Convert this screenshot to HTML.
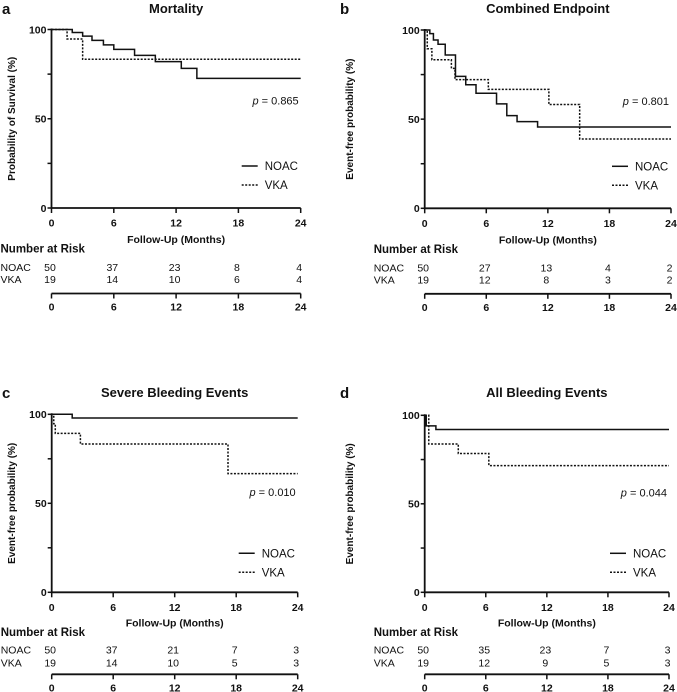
<!DOCTYPE html>
<html><head><meta charset="utf-8"><style>
html,body{margin:0;padding:0;background:#fff;width:677px;height:692px;overflow:hidden}
svg{display:block}
text{font-family:"Liberation Sans",Arial,sans-serif;fill:#111}
</style></head><body>
<svg id="fig" width="677" height="692" viewBox="0 0 677 692" xmlns="http://www.w3.org/2000/svg"></svg>
<script>
// ---- data ----
const xTicks = [0, 6, 12, 18, 24];
const yTicks = [0, 25, 50, 75, 100];
const yTickLabels = ["0", "", "50", "", "100"];
const panelLetters = ["a", "b", "c", "d"];
const panelTitles = ["Mortality", "Combined Endpoint", "Severe Bleeding Events", "All Bleeding Events"];
const yTitles = ["Probability of Survival (%)", "Event-free probability (%)", "Event-free probability (%)", "Event-free probability (%)"];
const pValues = ["0.865", "0.801", "0.010", "0.044"];
// panel a
const aNoacT = [0, 2.0, 3.0, 3.9, 5.0, 6.0, 8.0, 10.0, 12.5, 14.0, 24];
const aNoacS = [100, 98.3, 96.3, 93.9, 91.4, 88.9, 85.5, 82.0, 78.2, 72.6, 72.6];
const aVkaT = [0, 1.5, 3.0, 24];
const aVkaS = [100, 94.7, 83.3, 83.3];
// panel b
const bNoacT = [0, 0.5, 0.85, 1.3, 2.0, 3.0, 4.0, 5.0, 7.0, 8.0, 9.0, 11.0, 24];
const bNoacS = [100, 98, 94.4, 92, 86, 74, 69.3, 64.5, 58.6, 52, 48.6, 45.6, 45.6];
const bVkaT = [0, 0.25, 0.7, 2.6, 2.95, 6.2, 12.1, 15.1, 24];
const bVkaS = [100, 89.5, 83.3, 78.5, 72.2, 66.7, 58.2, 38.9, 38.9];
// panel c
const cNoacT = [0, 2.0, 24];
const cNoacS = [100, 97.9, 97.9];
const cVkaT = [0, 0.2, 0.35, 2.8, 17.2, 24];
const cVkaS = [100, 94.7, 89.3, 83.3, 66.7, 66.7];
// panel d
const dNoacT = [0, 0.15, 1.1, 24];
const dNoacS = [100, 94, 92, 92];
const dVkaT = [0, 0.4, 3.3, 6.3, 24];
const dVkaS = [100, 83.8, 78.4, 71.6, 71.6];
// numbers at risk
const aRiskNoac = [50, 37, 23, 8, 4], aRiskVka = [19, 14, 10, 6, 4];
const bRiskNoac = [50, 27, 13, 4, 2], bRiskVka = [19, 12, 8, 3, 2];
const cRiskNoac = [50, 37, 21, 7, 3], cRiskVka = [19, 14, 10, 5, 3];
const dRiskNoac = [50, 35, 23, 7, 3], dRiskVka = [19, 12, 9, 5, 3];

const NS = "http://www.w3.org/2000/svg";
const svg = document.getElementById("fig");
function mk(tag, attrs, parent, txt) {
  const e = document.createElementNS(NS, tag);
  for (const k in attrs) e.setAttribute(k, attrs[k]);
  if (txt !== undefined) e.textContent = txt;
  (parent || svg).appendChild(e);
  return e;
}
const layouts = [
  {x0: 51.5, x1: 300.7, y100: 29.5, y0: 208, ox: 0, oy: 0, pv: 58, lg1: 42, lg2: 23, ft: 31, nr: 40, r1: 59, r2: 71, ba: 85.5},
  {x0: 424.7, x1: 671, y100: 30, y0: 208.3, ox: 338, oy: 0, pv: 58, lg1: 42, lg2: 23, ft: 31, nr: 40, r1: 59, r2: 71, ba: 85.5},
  {x0: 51.7, x1: 297.7, y100: 414.3, y0: 592.3, ox: 0, oy: 384, pv: 54, lg1: 39, lg2: 20, ft: 30, nr: 39, r1: 57, r2: 70, ba: 82},
  {x0: 424.7, x1: 669, y100: 415.3, y0: 592.3, ox: 338, oy: 384, pv: 54, lg1: 39, lg2: 20, ft: 30, nr: 39, r1: 57, r2: 70, ba: 82}
];
const series = [
  [aNoacT, aNoacS, aVkaT, aVkaS, aRiskNoac, aRiskVka],
  [bNoacT, bNoacS, bVkaT, bVkaS, bRiskNoac, bRiskVka],
  [cNoacT, cNoacS, cVkaT, cVkaS, cRiskNoac, cRiskVka],
  [dNoacT, dNoacS, dVkaT, dVkaS, dRiskNoac, dRiskVka]
];
layouts.forEach((L, i) => {
  const g = mk("g", {});
  
  
  const xs = t => L.x0 + (t / 24) * (L.x1 - L.x0);
  const ys = v => L.y0 - (v / 100) * (L.y0 - L.y100);
  const oy = L.oy, ox = L.ox;
  const cx = (L.x0 + L.x1) / 2;
  let t = mk("text", {x: ox + 2, y: oy + 14, "font-size": 15, "font-weight": "bold"}, g, panelLetters[i]);
  
  
  t = mk("text", {x: cx, y: oy + 13, "font-size": 13, "font-weight": "bold", "text-anchor": "middle"}, g, panelTitles[i]);
  
  
  const ymid = (L.y0 + L.y100) / 2;
  t = mk("text", {x: 0, y: 0, "font-size": 10, "font-weight": "bold", "text-anchor": "middle", transform: `translate(${ox + 15},${ymid}) rotate(-90)`}, g, yTitles[i]);
  
  
  const ax = mk("path", {d: `M${L.x0},${L.y100 - 1}V${L.y0}H${L.x1}`, stroke: "#111", "stroke-width": 1.8, fill: "none"}, g);
  
  
  yTicks.forEach((v, k) => {
    mk("line", {x1: L.x0 - 4, x2: L.x0, y1: ys(v), y2: ys(v), stroke: "#111", "stroke-width": 1.5}, g);
    if (yTickLabels[k]) {
      const tl = mk("text", {x: L.x0 - 5, y: ys(v) + 3.8, "font-size": 10.5, "font-weight": "bold", "text-anchor": "end"}, g, yTickLabels[k]);
      
      
    }
  });
  xTicks.forEach(v => {
    mk("line", {x1: xs(v), x2: xs(v), y1: L.y0, y2: L.y0 + 5, stroke: "#111", "stroke-width": 1.5}, g);
    const tl = mk("text", {x: xs(v), y: L.y0 + 18.5, "font-size": 10.5, "font-weight": "bold", "text-anchor": "middle"}, g, String(v));
    
    
  });
  t = mk("text", {x: cx, y: L.y0 + L.ft + 4, "font-size": 10.5, "font-weight": "bold", "text-anchor": "middle"}, g, "Follow-Up (Months)");
  
  
  const S = series[i];
  function stepPath(T, V) {
    let d = `M${xs(T[0])},${ys(V[0])}`;
    for (let k = 1; k < T.length; k++) d += `H${xs(T[k])}V${ys(V[k])}`;
    return d;
  }
  const pn = mk("path", {d: stepPath(S[0], S[1]), stroke: "#111", "stroke-width": 1.5, fill: "none"}, g);
  
  
  const pv = mk("path", {d: stepPath(S[2], S[3]), stroke: "#111", "stroke-width": 1.5, fill: "none", "stroke-dasharray": "2,1.5"}, g);
  
  
  const pt = mk("text", {x: L.x1 - 2, y: ys(L.pv), "font-size": 11, "text-anchor": "end"}, g);
  
  
  mk("tspan", {"font-style": "italic"}, pt, "p");
  mk("tspan", {}, pt, " = " + pValues[i]);
  const lx = L.x1 - 59, ly1 = L.y0 - L.lg1, ly2 = L.y0 - L.lg2;
  const lg = mk("g", {}, g);
  
  
  mk("line", {x1: lx, x2: lx + 16, y1: ly1, y2: ly1, stroke: "#111", "stroke-width": 1.5}, lg);
  mk("text", {x: lx + 23, y: ly1 + 4, "font-size": 11.5}, lg, "NOAC");
  mk("line", {x1: lx, x2: lx + 16, y1: ly2, y2: ly2, stroke: "#111", "stroke-width": 1.5, "stroke-dasharray": "2,1.5"}, lg);
  mk("text", {x: lx + 23, y: ly2 + 4, "font-size": 11.5}, lg, "VKA");
  const rt = mk("g", {}, g);
  
  
  mk("text", {x: L.x0 - 51, y: L.y0 + L.nr + 4.5, "font-size": 11.5, "font-weight": "bold"}, rt, "Number at Risk");
  mk("text", {x: L.x0 - 51, y: L.y0 + L.r1 + 4, "font-size": 10.5}, rt, "NOAC");
  mk("text", {x: L.x0 - 51, y: L.y0 + L.r2 + 4, "font-size": 10.5}, rt, "VKA");
  xTicks.forEach((v, k) => {
    mk("text", {x: xs(v) - 1.5, y: L.y0 + L.r1 + 4, "font-size": 10.5, "text-anchor": "middle"}, rt, String(S[4][k]));
    mk("text", {x: xs(v) - 1.5, y: L.y0 + L.r2 + 4, "font-size": 10.5, "text-anchor": "middle"}, rt, String(S[5][k]));
  });
  const by = L.y0 + L.ba;
  mk("line", {x1: L.x0, x2: L.x1, y1: by, y2: by, stroke: "#111", "stroke-width": 1.8}, rt);
  xTicks.forEach(v => {
    mk("line", {x1: xs(v), x2: xs(v), y1: by, y2: by + 5, stroke: "#111", "stroke-width": 1.5}, rt);
    mk("text", {x: xs(v), y: by + 17, "font-size": 10.5, "font-weight": "bold", "text-anchor": "middle"}, rt, String(v));
  });
});
</script>
</body></html>
